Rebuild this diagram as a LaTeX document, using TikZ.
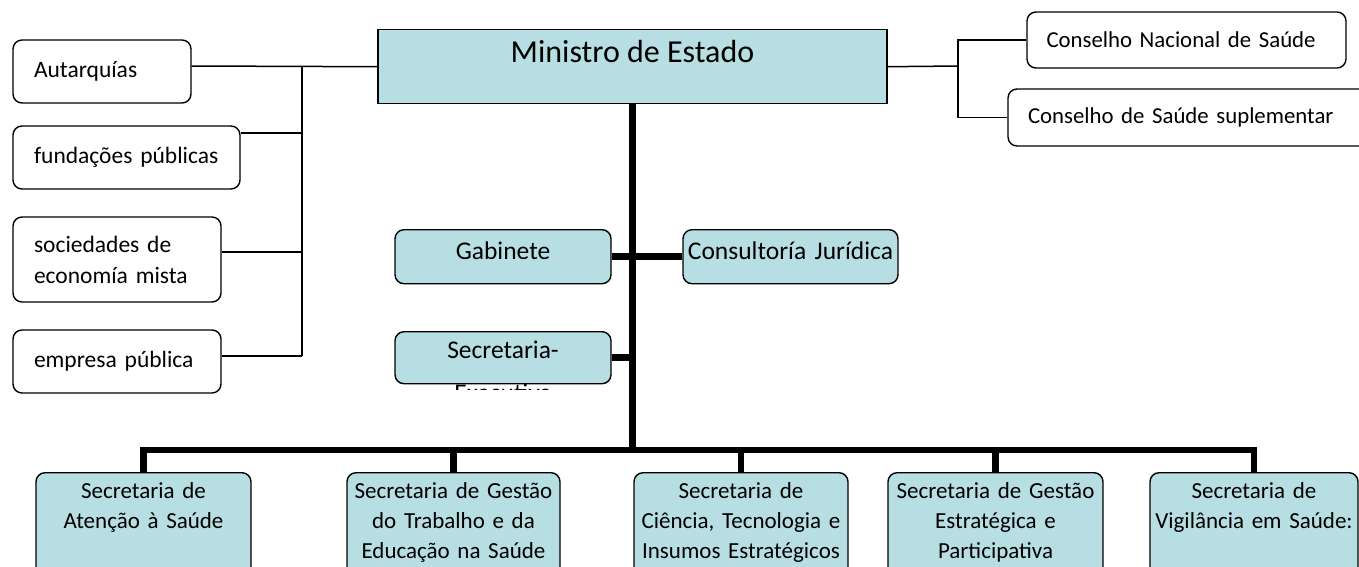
\documentclass[tikz,border=0pt]{standalone}
\usepackage{fontspec}
\setmainfont{Carlito}
\usepackage{tikz}
\usetikzlibrary{calc}
\definecolor{aqua}{RGB}{183,222,226}

\tikzset{
  sidebox/.style={draw, rounded corners=9pt, line width=1.4pt, fill=white,
    align=left, inner xsep=21pt, inner ysep=0pt,
    font=\fontsize{23.5}{31}\selectfont},
  bluebox/.style={draw, rounded corners=9pt, line width=1.4pt, fill=aqua,
    align=center, inner sep=0pt, font=\fontsize{25.5}{32}\selectfont},
  secbox/.style={bluebox, anchor=north, text height=26pt, text depth=130pt,
    font=\fontsize{23}{30}\selectfont},
  thinline/.style={line width=1.5pt},
  thickline/.style={line width=6.5pt},
}

\begin{document}
\begin{tikzpicture}[x=1pt,y=-1pt]
  \useasboundingbox (0,0) rectangle (1359,566);

  % Define nodes
  \node[draw, line width=1.4pt, fill=aqua, anchor=north, inner sep=0pt,
    minimum width=509pt, text height=33pt, text depth=41pt,
    font=\fontsize{32}{38}\selectfont] (min) at (632.5,29) {Ministro de Estado};

  \node[sidebox, text width=136pt, minimum height=63pt] (aut) at (102,71.5) {Autarquías};
  \node[sidebox, text width=185pt, minimum height=63pt] (fun) at (126.5,157.5) {fundações públicas};
  \node[sidebox, text width=166pt, minimum height=85pt] (soc) at (117,259.5) {sociedades de\\economía mista};
  \node[sidebox, text width=166pt, minimum height=63pt] (emp) at (117,361.5) {empresa pública};

  \node[sidebox, inner xsep=19.5pt, text width=280pt, minimum height=56pt,
    font=\fontsize{22.8}{30}\selectfont] (cnac) at (1186.5,40) {Conselho Nacional de Saúde};
  \node[sidebox, inner xsep=20pt, text width=337pt, minimum height=57pt,
    font=\fontsize{22.8}{30}\selectfont] (csup) at (1196.5,117.5) {Conselho de Saúde suplementar};

  \node[bluebox, anchor=north, text width=216pt, text height=30pt, text depth=24pt] (gab) at (503,229) {Gabinete};
  \node[bluebox, anchor=north, text width=215pt, text height=30pt, text depth=24pt] (cons) at (790.5,229) {Consultoría Jurídica};
  \node[bluebox, anchor=north, text width=216pt, text height=27pt, text depth=25pt] (sexe) at (503,331) {Secretaria-};
  \begin{scope}
    \clip (395,383.5) rectangle (611,389);
    \node[anchor=base, inner sep=0pt, font=\fontsize{25.5}{32}\selectfont] (exe) at (503,401) {Executiva};
  \end{scope}

  \node[secbox, text width=215pt] (s1) at (143.5,472) {Secretaria de\\Atenção à Saúde};
  \node[secbox, text width=213pt] (s2) at (453.5,472) {Secretaria de Gestão\\do Trabalho e da\\Educação na Saúde};
  \node[secbox, text width=214pt] (s3) at (741,472) {Secretaria de\\Ciência, Tecnologia e\\Insumos Estratégicos};
  \node[secbox, text width=215pt] (s4) at (995.5,472) {Secretaria de Gestão\\Estratégica e\\Participativa};
  \node[secbox, text width=208pt] (s5) at (1254,472) {Secretaria de\\Vigilância em Saúde:};

  % Left and right branches
  \coordinate (lbus) at (302,66);
  \coordinate (lf) at (302,133);
  \coordinate (ls) at (302,252);
  \coordinate (le) at (302,356);
  \draw[thinline] (aut.east |- lbus) -- (min.west);
  \draw[thinline] (lbus) -- (le);
  \draw[thinline] (fun.east |- lf) -- (lf);
  \draw[thinline] (soc.east |- ls) -- (ls);
  \draw[thinline] (emp.east |- le) -- (le);

  \coordinate (rbus) at (958,66);
  \draw[thinline] (min.east) -- (rbus);
  \draw[thinline] (cnac.west) -| (rbus) |- (csup.west);

  % Trunk and secretarias
  \coordinate (bus) at (632.5,450);
  \draw[thickline] (min.south) -- (bus);
  \draw[thickline] (gab) -- (cons);
  \draw[thickline] (sexe.east) -- (sexe.east -| min.south);
  \draw[thickline] (s1.north) |- (bus) -| (s5.north);
  \foreach \s in {s2,s3,s4}
    \draw[thickline] (\s.north) -- (\s.north |- bus);
\end{tikzpicture}
\end{document}
